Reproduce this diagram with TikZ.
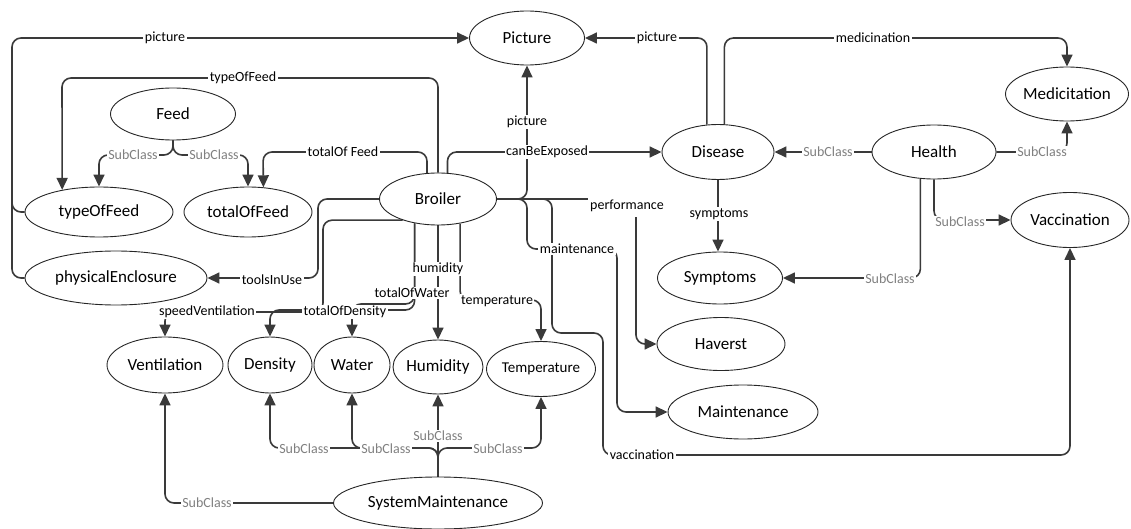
\documentclass[tikz,border=0pt]{standalone}
\usepackage{fontspec}
\setmainfont{Carlito}
\usetikzlibrary{arrows.meta,shapes.geometric}
\definecolor{ln}{HTML}{3A3A3A}
\definecolor{subc}{HTML}{808080}
\newcommand\nodetxt[1]{\makebox[0pt]{#1}}
\pgfdeclarelayer{bg}
\pgfsetlayers{bg,main}
\begin{document}
\begin{tikzpicture}[x=1pt,y=-1pt,
  cls/.style={ellipse,draw=black!85,line width=0.9pt,fill=white,inner sep=0pt,font=\fontsize{17}{20}\selectfont},
  rel/.style={draw=ln,line width=1.6pt,rounded corners=9pt,-{Triangle[length=12pt,width=11pt]}},
  lnk/.style={draw=ln,line width=1.6pt,rounded corners=9pt},
  lab/.style={fill=white,inner sep=1.5pt,font=\fontsize{14}{16}\selectfont},
  sublab/.style={lab,text=subc}]
\useasboundingbox (0,0) rectangle (1131,529);
% classes
\node[cls,minimum width=115pt,minimum height=54pt] (picture) at (527,38) {\nodetxt{Picture}};
\node[cls,minimum width=112pt,minimum height=55pt] (disease) at (718,152) {\nodetxt{Disease}};
\node[cls,minimum width=123pt,minimum height=54pt] (medic) at (1067,94) {\nodetxt{Medicitation}};
\node[cls,minimum width=124pt,minimum height=54pt] (health) at (934,152) {\nodetxt{Health}};
\node[cls,minimum width=125pt,minimum height=52pt] (feed) at (173,114) {\nodetxt{Feed}};
\node[cls,minimum width=148pt,minimum height=50pt] (typefeed) at (99,212) {\nodetxt{typeOfFeed}};
\node[cls,minimum width=128pt,minimum height=50pt] (totalfeed) at (248,212) {\nodetxt{totalOfFeed}};
\node[cls,minimum width=182pt,minimum height=54pt] (physenc) at (116,278) {\nodetxt{physicalEnclosure}};
\node[cls,minimum width=117pt,minimum height=52pt] (broiler) at (438,199) {\nodetxt{Broiler}};
\node[cls,minimum width=125pt,minimum height=52pt] (symptoms) at (720,278) {\nodetxt{Symptoms}};
\node[cls,minimum width=118pt,minimum height=55pt] (vacc) at (1070,220) {\nodetxt{Vaccination}};
\node[cls,minimum width=128pt,minimum height=53pt] (haverst) at (721,344) {\nodetxt{Haverst}};
\node[cls,minimum width=150pt,minimum height=54pt] (maint) at (743,412) {\nodetxt{Maintenance}};
\node[cls,minimum width=116pt,minimum height=56pt] (vent) at (165,365) {\nodetxt{Ventilation}};
\node[cls,minimum width=84pt,minimum height=56pt] (density) at (270,365) {\nodetxt{Density}};
\node[cls,minimum width=76pt,minimum height=56pt] (water) at (352,365) {\nodetxt{Water}};
\node[cls,minimum width=90pt,minimum height=54pt] (humidity) at (438,367) {\nodetxt{Humidity}};
\node[cls,minimum width=109pt,minimum height=55pt,font=\fontsize{15}{18}\selectfont] (temp) at (541,369) {\nodetxt{Temperature}};
\node[cls,minimum width=209pt,minimum height=52pt] (sysm) at (438,503) {\nodetxt{SystemMaintenance}};
\begin{pgfonlayer}{bg}
% connectors
\draw[rel] (physenc.west) -| (12,38) -- (picture.west);
\draw[lnk] (typefeed.west) -| (12,180);
\draw[rel] (broiler.north) |- (62,78) -- (typefeed.149.7);
\draw[rel] (broiler.113.3) |- (263,152) -- (totalfeed.58.3);
\draw[rel] (feed.south) |- (99,155) -- (typefeed.north);
\draw[rel] (feed.south) |- (248,155) -- (totalfeed.north);
\draw[rel] (broiler.east) -| (picture.south);
\draw[rel] (broiler.70.7) |- (disease.west);
\draw[rel] (disease.112.2) |- (picture.east);
\draw[rel] (disease.77.6) |- (1067,38) -- (medic.north);
\draw[rel] (health.west) -- (disease.east);
\draw[rel] (health.east) -| (medic.south);
\draw[rel] (disease.south) -- (disease.south |- symptoms.north);
\draw[rel] (health.south) |- (vacc.west);
\draw[rel] (health.243.8) |- (symptoms.east);
\draw[rel] (broiler.east) -| (552,333) -| (603,455) -| (vacc.south);
\draw[rel] (broiler.east) -| (636,344) -- (haverst.west);
\draw[rel] (broiler.east) -| (527,249) -| (617,412) -- (maint.west);
\draw[rel] (broiler.west) -| (318,278) -- (physenc.east);
\draw[rel] (broiler.211.3) -| (323,312) -| (vent.north);
\draw[rel] (broiler.226.8) |- (270,310) -- (density.north);
\draw[rel] (broiler.226.8) |- (352,304) -- (water.north);
\draw[rel] (broiler.south) -- (humidity.north);
\draw[rel] (broiler.312.4) |- (541,300) -- (temp.north);
\draw[rel] (sysm.north) |- (270,448) -- (density.south);
\draw[rel] (sysm.north) |- (352,448) -- (water.south);
\draw[rel] (sysm.north) -- (humidity.south);
\draw[rel] (sysm.north) |- (541,448) -- (temp.south);
\draw[rel] (sysm.west) -| (vent.south);
% labels
\node[lab] (l1) at (165,38) {picture};
\node[lab] (l2) at (243,78) {typeOfFeed};
\node[sublab] (l3) at (133,155) {SubClass};
\node[sublab] (l4) at (214,155) {SubClass};
\node[lab] (l5) at (343,152) {totalOf Feed};
\node[lab] (l6) at (527,122) {picture};
\node[lab] (l7) at (547,152) {canBeExposed};
\node[lab] (l8) at (657,38) {picture};
\node[lab] (l9) at (873,38) {medicination};
\node[sublab] (l10) at (828,152) {SubClass};
\node[sublab] (l11) at (1042,152) {SubClass};
\node[lab] (l12) at (719,214) {symptoms};
\node[sublab] (l13) at (960,222) {SubClass};
\node[sublab] (l14) at (890,279) {SubClass};
\node[lab,inner xsep=2pt,inner ysep=5pt] (l15) at (627,206) {performance};
\node[lab] (l16) at (577,249) {maintenance};
\node[lab] (l17) at (642,455) {vaccination};
\node[lab] (l18) at (272,280) {toolsInUse};
\node[lab] (l19) at (438,269) {humidity};
\node[lab] (l20) at (412,293) {totalOfWater};
\node[lab] (l21) at (497,301) {temperature};
\node[lab] (l22) at (207,312) {speedVentilation};
\node[lab] (l23) at (345,312) {totalOfDensity};
\node[sublab] (l24) at (304,449) {SubClass};
\node[sublab] (l25) at (386,449) {SubClass};
\node[sublab] (l26) at (438,436) {SubClass};
\node[sublab] (l27) at (498,449) {SubClass};
\node[sublab] (l28) at (207,503) {SubClass};
\end{pgfonlayer}
\end{tikzpicture}
\end{document}
